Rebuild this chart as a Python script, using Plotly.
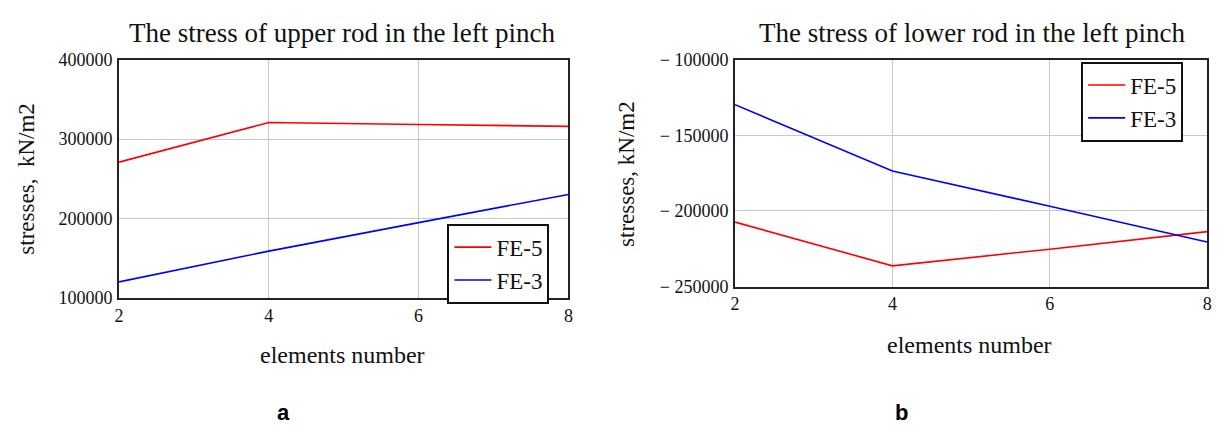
import plotly.graph_objects as go

elements = [2, 4, 6, 8]

# Chart a: upper rod
upper_fe5 = [271000, 320800, 318400, 316000]
upper_fe3 = [120300, 159000, 194900, 230300]

# Chart b: lower rod
lower_fe5 = [-207400, -236300, -225300, -213700]
lower_fe3 = [-129800, -173600, -196900, -220600]

x_ticks = [2, 4, 6, 8]
upper_yticks = [100000, 200000, 300000, 400000]
upper_ytext = ["100000", "200000", "300000", "400000"]
lower_yticks = [-250000, -200000, -150000, -100000]
lower_ytext = ["\u2212 250000", "\u2212 200000", "\u2212 150000", "\u2212 100000"]

series_names = ["FE-5", "FE-3"]
colors = ["#ff0000", "#0000ff"]

FONT = "Liberation Serif"
W, H = 1232, 432

fig = go.Figure()
for name, ys, c in zip(series_names, [upper_fe5, upper_fe3], colors):
    fig.add_trace(go.Scatter(x=elements, y=ys, mode="lines", name=name,
                             line=dict(color=c, width=1.6),
                             xaxis="x", yaxis="y", legend="legend"))
for name, ys, c in zip(series_names, [lower_fe5, lower_fe3], colors):
    fig.add_trace(go.Scatter(x=elements, y=ys, mode="lines", name=name,
                             line=dict(color=c, width=1.6),
                             xaxis="x2", yaxis="y2", legend="legend2"))

def px_x(p):
    return p / W

def px_y(p):
    return 1 - p / H

axis_common = dict(showline=True, mirror=True, linecolor="#222222", linewidth=2,
                   showgrid=True, gridcolor="#c8c8c8", gridwidth=1, zeroline=False,
                   ticks="", tickfont=dict(family=FONT, size=18, color="#111"))

legend_common = dict(xanchor="left", bgcolor="white",
                     bordercolor="#111", borderwidth=2, itemwidth=37,
                     font=dict(family=FONT, size=23, color="#111"))

fig.update_layout(
    width=W, height=H, autosize=False,
    margin=dict(l=0, r=0, t=0, b=0),
    paper_bgcolor="white", plot_bgcolor="white",
    font=dict(family=FONT, color="#111"),
    xaxis=dict(domain=[px_x(115), px_x(568)], range=[2, 8], tickvals=x_ticks,
               anchor="y", **axis_common),
    yaxis=dict(domain=[px_y(302), px_y(52)], range=[100000, 400000],
               tickvals=upper_yticks, ticktext=upper_ytext, anchor="x",
               ticklabelstandoff=1, **axis_common),
    xaxis2=dict(domain=[px_x(736), px_x(1212)], range=[2, 8], tickvals=x_ticks,
                anchor="y2", **axis_common),
    yaxis2=dict(domain=[px_y(290), px_y(52)], range=[-250000, -100000],
                tickvals=lower_yticks, ticktext=lower_ytext, anchor="x2",
                ticklabelstandoff=1, **axis_common),
    legend=dict(x=px_x(446), y=px_y(224), yanchor="top", **legend_common),
    legend2=dict(x=px_x(1085), y=px_y(96), yanchor="middle", **legend_common),
    showlegend=True,
)

ann = [
    dict(text="The stress of upper rod in the left pinch", x=px_x(340), y=px_y(24), size=27),
    dict(text="The stress of lower rod in the left pinch", x=px_x(975), y=px_y(24), size=27),
    dict(text="elements number", x=px_x(340), y=px_y(362), size=24),
    dict(text="elements number", x=px_x(972), y=px_y(351), size=24),
]
for a in ann:
    fig.add_annotation(text=a["text"], x=a["x"], y=a["y"], xref="paper", yref="paper",
                       xanchor="center", yanchor="middle", showarrow=False,
                       font=dict(family=FONT, size=a["size"], color="#111"))

fig.add_annotation(text="stresses,  kN/m2", x=px_x(22), y=px_y(177), xref="paper", yref="paper",
                   xanchor="center", yanchor="middle", showarrow=False, textangle=-90,
                   font=dict(family=FONT, size=23, color="#111"))
fig.add_annotation(text="stresses, kN/m2", x=px_x(626), y=px_y(172), xref="paper", yref="paper",
                   xanchor="center", yanchor="middle", showarrow=False, textangle=-90,
                   font=dict(family=FONT, size=23, color="#111"))

for lab, xx in [("a", 281), ("b", 904)]:
    fig.add_annotation(text="<b>%s</b>" % lab, x=px_x(xx), y=px_y(422), xref="paper", yref="paper",
                       xanchor="center", yanchor="middle", showarrow=False,
                       font=dict(family="Liberation Sans", size=22, color="#000"))

fig.write_html("out.html")
